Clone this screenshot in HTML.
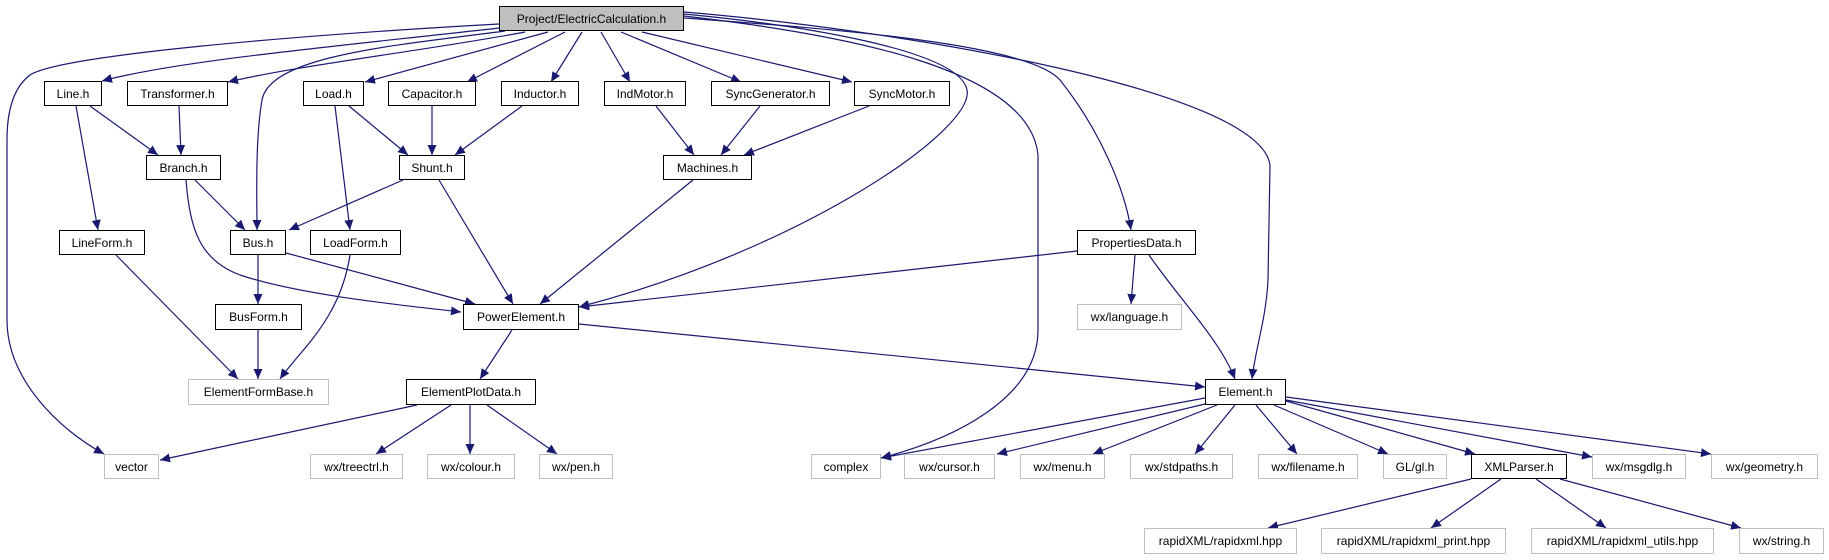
<!DOCTYPE html>
<html><head><meta charset="utf-8"><style>
body{margin:0;width:1829px;height:560px;background:#fff;position:relative;overflow:hidden;font-family:"Liberation Sans",Arial,sans-serif}
svg{position:absolute;left:0;top:0}
.n{position:absolute;box-sizing:border-box;border:1px solid #000;background:#fff;font-size:12px;display:flex;align-items:center;justify-content:center;white-space:nowrap;color:#000}
.g{border-color:#bfbfbf}
</style></head><body>
<svg width="1829" height="560" viewBox="0 0 1829 560">
<defs><marker id="a" markerUnits="userSpaceOnUse" markerWidth="11" markerHeight="9" refX="10" refY="4.5" orient="auto"><path d="M0,0 L10,4.5 L0,9 z" fill="#191970"/></marker></defs>
<g fill="none" stroke="#191970" stroke-width="1.2" marker-end="url(#a)">
<path d="M499,28 C350,45 180,60 102,81"/>
<path d="M525,32 C430,50 300,65 228,82"/>
<path d="M499,24 C300,35 60,55 30,75 C10,90 7,120 7,140 L7,320 C7,380 60,430 104,454"/>
<path d="M505,31 C400,45 270,55 262,100 C255,140 257,200 257,230"/>
<path d="M548,32 L365,82"/>
<path d="M565,32 L467,82"/>
<path d="M582,32 L551,82"/>
<path d="M601,32 L630,82"/>
<path d="M621,32 L741,82"/>
<path d="M642,32 L852,82"/>
<path d="M684,14 C800,25 960,50 967,90 C975,130 800,250 579,307"/>
<path d="M684,16 C850,35 1030,70 1038,155 L1038,330 C1038,400 950,440 881,458"/>
<path d="M684,18 C850,30 1030,45 1060,80 C1100,130 1125,190 1131,230"/>
<path d="M684,12 C900,30 1260,90 1270,165 L1268,280 C1266,320 1255,350 1252,379"/>
<path d="M90,106 L158,155"/>
<path d="M76,106 L98,230"/>
<path d="M179,106 L181,155"/>
<path d="M349,106 L408,155"/>
<path d="M335,106 L350,230"/>
<path d="M432,106 L432,155"/>
<path d="M522,106 L455,155"/>
<path d="M656,106 L694,155"/>
<path d="M760,106 L721,155"/>
<path d="M869,106 L744,155"/>
<path d="M195,180 L245,230"/>
<path d="M186,180 C190,230 200,260 240,275 C300,295 400,305 461,312"/>
<path d="M403,180 L289,230"/>
<path d="M439,180 L513,304"/>
<path d="M693,180 L540,304"/>
<path d="M286,253 L475,304"/>
<path d="M258,255 L258,304"/>
<path d="M116,255 L238,379"/>
<path d="M350,255 C340,320 300,350 280,379"/>
<path d="M258,330 L258,379"/>
<path d="M1077,251 L579,307"/>
<path d="M1135,255 L1131,304"/>
<path d="M1149,255 C1180,300 1220,340 1235,379"/>
<path d="M579,324 L1205,387"/>
<path d="M512,330 L480,379"/>
<path d="M417,405 L160,460"/>
<path d="M451,405 L376,454"/>
<path d="M470,405 L470,454"/>
<path d="M487,405 L557,454"/>
<path d="M1205,398 L881,458"/>
<path d="M1205,404 L997,454"/>
<path d="M1217,405 L1093,454"/>
<path d="M1235,405 L1195,454"/>
<path d="M1256,405 L1297,454"/>
<path d="M1274,405 L1388,454"/>
<path d="M1286,401 L1475,454"/>
<path d="M1286,400 L1592,457"/>
<path d="M1286,397 L1711,454"/>
<path d="M1471,479 L1268,528"/>
<path d="M1501,479 L1431,528"/>
<path d="M1536,479 L1606,528"/>
<path d="M1560,479 L1741,528"/>
</g></svg>
<div class="n" style="left:499px;top:6px;width:185px;height:25px;background:#bfbfbf">Project/ElectricCalculation.h</div>
<div class="n" style="left:44px;top:81px;width:58px;height:25px">Line.h</div>
<div class="n" style="left:127px;top:81px;width:101px;height:25px">Transformer.h</div>
<div class="n" style="left:303px;top:81px;width:61px;height:25px">Load.h</div>
<div class="n" style="left:388px;top:81px;width:88px;height:25px">Capacitor.h</div>
<div class="n" style="left:501px;top:81px;width:78px;height:25px">Inductor.h</div>
<div class="n" style="left:604px;top:81px;width:82px;height:25px">IndMotor.h</div>
<div class="n" style="left:711px;top:81px;width:119px;height:25px">SyncGenerator.h</div>
<div class="n" style="left:854px;top:81px;width:96px;height:25px">SyncMotor.h</div>
<div class="n" style="left:146px;top:155px;width:75px;height:25px">Branch.h</div>
<div class="n" style="left:399px;top:155px;width:66px;height:25px">Shunt.h</div>
<div class="n" style="left:663px;top:155px;width:89px;height:25px">Machines.h</div>
<div class="n" style="left:59px;top:230px;width:86px;height:25px">LineForm.h</div>
<div class="n" style="left:230px;top:230px;width:56px;height:25px">Bus.h</div>
<div class="n" style="left:310px;top:230px;width:91px;height:25px">LoadForm.h</div>
<div class="n" style="left:1077px;top:230px;width:119px;height:25px">PropertiesData.h</div>
<div class="n" style="left:215px;top:304px;width:87px;height:26px">BusForm.h</div>
<div class="n" style="left:463px;top:304px;width:116px;height:26px">PowerElement.h</div>
<div class="n g" style="left:1077px;top:304px;width:105px;height:26px">wx/language.h</div>
<div class="n g" style="left:188px;top:379px;width:141px;height:26px">ElementFormBase.h</div>
<div class="n" style="left:406px;top:379px;width:130px;height:26px">ElementPlotData.h</div>
<div class="n" style="left:1205px;top:379px;width:81px;height:26px">Element.h</div>
<div class="n g" style="left:104px;top:454px;width:55px;height:25px">vector</div>
<div class="n g" style="left:310px;top:454px;width:93px;height:25px">wx/treectrl.h</div>
<div class="n g" style="left:427px;top:454px;width:88px;height:25px">wx/colour.h</div>
<div class="n g" style="left:539px;top:454px;width:74px;height:25px">wx/pen.h</div>
<div class="n g" style="left:811px;top:454px;width:70px;height:25px">complex</div>
<div class="n g" style="left:904px;top:454px;width:91px;height:25px">wx/cursor.h</div>
<div class="n g" style="left:1020px;top:454px;width:85px;height:25px">wx/menu.h</div>
<div class="n g" style="left:1130px;top:454px;width:103px;height:25px">wx/stdpaths.h</div>
<div class="n g" style="left:1258px;top:454px;width:100px;height:25px">wx/filename.h</div>
<div class="n g" style="left:1383px;top:454px;width:64px;height:25px">GL/gl.h</div>
<div class="n" style="left:1471px;top:454px;width:96px;height:25px">XMLParser.h</div>
<div class="n g" style="left:1592px;top:454px;width:94px;height:25px">wx/msgdlg.h</div>
<div class="n g" style="left:1711px;top:454px;width:107px;height:25px">wx/geometry.h</div>
<div class="n g" style="left:1144px;top:528px;width:153px;height:26px">rapidXML/rapidxml.hpp</div>
<div class="n g" style="left:1321px;top:528px;width:185px;height:26px">rapidXML/rapidxml_print.hpp</div>
<div class="n g" style="left:1531px;top:528px;width:183px;height:26px">rapidXML/rapidxml_utils.hpp</div>
<div class="n g" style="left:1739px;top:528px;width:85px;height:26px">wx/string.h</div>
</body></html>
